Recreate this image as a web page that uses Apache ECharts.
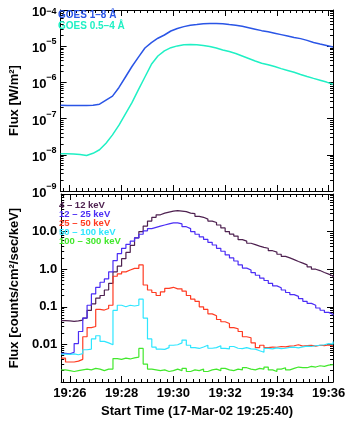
<!DOCTYPE html>
<html>
<head>
<meta charset="utf-8">
<title>GOES / RHESSI 17-Mar-02</title>
<script src="https://cdn.jsdelivr.net/npm/echarts@6/dist/echarts.min.js"></script>
<style>html,body{margin:0;padding:0;background:#fff;}</style>
</head>
<body>
<div id="main" style="width:354px;height:425px;"></div>
<script>
// time in seconds after 19:25:40
var goesTimes = [0, 15, 30, 45, 60, 75, 90, 105, 120, 135, 150, 165, 180, 195, 210, 225, 240, 255, 270, 285,
  300, 315, 330, 345, 360, 375, 390, 405, 420, 435, 450, 465, 480, 495, 510, 525, 540, 555, 570, 585, 600, 615, 630];
var goesLong = [2.34e-7, 2.29e-7, 2.29e-7, 2.29e-7, 2.29e-7, 2.34e-7, 2.5e-7, 3.24e-7, 4.17e-7, 7.24e-7,
  1.41e-6, 2.75e-6, 5.0e-6, 8.9e-6, 1.26e-5, 1.66e-5, 2.04e-5, 2.63e-5, 3.09e-5, 3.47e-5,
  3.8e-5, 3.98e-5, 4.17e-5, 4.27e-5, 4.27e-5, 4.17e-5, 3.98e-5, 3.8e-5, 3.55e-5, 3.24e-5,
  2.95e-5, 2.69e-5, 2.51e-5, 2.29e-5, 2.09e-5, 1.91e-5, 1.74e-5, 1.62e-5, 1.45e-5, 1.26e-5,
  1.15e-5, 1.05e-5, 9.5e-6];
var goesShort = [1.07e-8, 1.07e-8, 1.05e-8, 1.02e-8, 9.6e-9, 1.1e-8, 1.38e-8, 2.09e-8, 3.55e-8, 6.6e-8,
  1.35e-7, 2.75e-7, 6.3e-7, 1.41e-6, 3.16e-6, 5.37e-6, 7.4e-6, 9.1e-6, 1.02e-5, 1.1e-5,
  1.12e-5, 1.1e-5, 1.05e-5, 9.8e-6, 8.9e-6, 7.9e-6, 7.1e-6, 6.3e-6, 5.37e-6, 4.57e-6,
  3.89e-6, 3.39e-6, 3.09e-6, 2.75e-6, 2.4e-6, 2.14e-6, 1.91e-6, 1.66e-6, 1.45e-6, 1.29e-6,
  1.15e-6, 1.02e-6, 8.9e-7];

var binTimes = [0, 10, 20, 30, 40, 50, 60, 70, 80, 90, 100, 110, 120, 130, 140, 150, 160, 170, 180, 190,
  200, 210, 220, 230, 240, 250, 260, 270, 280, 290, 300, 310, 320, 330, 340, 350, 360, 370, 380, 390,
  400, 410, 420, 430, 440, 450, 460, 470, 480, 490, 500, 510, 520, 530, 540, 550, 560, 570, 580, 590,
  600, 610, 620, 630];
var band4to12 = [0.043, 0.042, 0.041, 0.042, 0.044, 0.05, 0.08, 0.12, 0.17, 0.2,
  0.28, 0.42, 0.85, 1.2, 1.9, 2.8, 4.3, 6.8, 10, 14,
  19, 24, 28, 31, 33, 35, 36, 35, 34, 31,
  30, 25.5, 24, 21.5, 19, 17.5, 15, 12.5, 10, 8.6,
  7.6, 6.1, 5.6, 4.9, 4.5, 4.1, 3.8, 3.6, 3.1, 2.85,
  2.5, 2.2, 2.0, 1.8, 1.6, 1.45, 1.3, 1.15, 1.0, 0.92,
  0.82, 0.74, 0.66, 0.6];
var band12to25 = [0.0058, 0.0056, 0.0062, 0.0105, 0.022, 0.05, 0.11, 0.22, 0.33, 0.45,
  0.55, 0.85, 1.7, 2.6, 3.6, 4.6, 5.6, 6.8, 8.5, 10.5,
  12, 13, 14, 15, 16, 17, 17, 16, 13.5, 12,
  10, 8.5, 7.2, 6.2, 5.2, 4.4, 3.6, 3.0, 2.4, 2.0,
  1.65, 1.3, 1.07, 0.95, 0.81, 0.69, 0.58, 0.5, 0.42, 0.36,
  0.32, 0.28, 0.24, 0.21, 0.19, 0.165, 0.14, 0.123, 0.11, 0.093,
  0.081, 0.071, 0.063, 0.06];
var band25to50 = [0.0043, 0.0034, 0.0034, 0.0036, 0.004, 0.016, 0.028, 0.03, 0.085, 0.082,
  0.09, 0.11, 0.65, 0.75, 0.85, 0.95, 1.05, 1.05, 1.3, 0.38,
  0.28, 0.24, 0.2, 0.25, 0.31, 0.33, 0.3, 0.3, 0.26, 0.2,
  0.16, 0.14, 0.1, 0.085, 0.065, 0.058, 0.046, 0.04, 0.036, 0.028,
  0.026, 0.022, 0.016, 0.015, 0.011, 0.0082, 0.0095, 0.0082, 0.0085, 0.0084,
  0.0088, 0.0086, 0.009, 0.0092, 0.0098, 0.009, 0.0093, 0.0095, 0.009, 0.0095,
  0.0093, 0.0097, 0.0091, 0.0093];
var band50to100 = [0.0055, 0.0054, 0.0056, 0.0053, 0.0057, 0.0072, 0.0075, 0.014, 0.017, 0.012,
  0.011, 0.0098, 0.08, 0.11, 0.1, 0.11, 0.105, 0.11, 0.16, 0.05,
  0.014, 0.0085, 0.0075, 0.0074, 0.0082, 0.0095, 0.0098, 0.011, 0.013, 0.0095,
  0.0082, 0.0078, 0.0085, 0.0095, 0.0079, 0.0082, 0.0092, 0.0078, 0.0076, 0.0088,
  0.0079, 0.0077, 0.0082, 0.0076, 0.0075, 0.0068, 0.0062, 0.0078, 0.0076, 0.0081,
  0.0077, 0.0079, 0.0083, 0.0085, 0.0081, 0.0086, 0.009, 0.0088, 0.0092, 0.0095,
  0.0098, 0.0105, 0.0102, 0.012];
var band100to300 = [0.0021, 0.002, 0.0019, 0.002, 0.0021, 0.0022, 0.0021, 0.0023, 0.0022, 0.002,
  0.0022, 0.0022, 0.0042, 0.004, 0.0043, 0.0041, 0.0044, 0.0046, 0.0078, 0.003,
  0.0022, 0.0021, 0.002, 0.0021, 0.0019, 0.002, 0.0022, 0.002, 0.0023, 0.0019,
  0.0021, 0.002, 0.0022, 0.0019, 0.0021, 0.0022, 0.002, 0.0023, 0.0021, 0.002,
  0.0022, 0.0021, 0.0024, 0.0022, 0.0021, 0.0023, 0.0022, 0.0025, 0.0021, 0.0019,
  0.0022, 0.0024, 0.0021, 0.0023, 0.0025, 0.0024, 0.0024, 0.0026, 0.0025, 0.0027,
  0.0026, 0.0028, 0.0029, 0.003];

var goesNames = ['GOES 1\u20138 \u00c5', 'GOES 0.5\u20134 \u00c5'];
var goesColors = ['#2a55e6', '#1ff0c4'];
var bandNames = ['4 \u2013 12 keV', '12 \u2013 25 keV', '25 \u2013 50 keV', '50 \u2013 100 keV', '100 \u2013 300 keV'];
var bandColors = ['#4e2150', '#4b2df5', '#ff3b22', '#2ee6ff', '#42e82c'];

var tickTimes = [20, 140, 260, 380, 500, 620];
var tickLabels = ['19:26', '19:28', '19:30', '19:32', '19:34', '19:36'];
var goesTicks = [1e-9, 1e-8, 1e-7, 1e-6, 1e-5, 1e-4];
var fluxTicks = [0.001, 0.01, 0.1, 1, 10, 100];
var fluxLabelValues = [0.01, 0.1, 1, 10];
var fluxLabels = ['0.01', '0.1', '1.0', '10.0'];

var FONT = '"Liberation Sans", Arial, Helvetica, sans-serif';
var X_MAX = 630;

var minorTimes = [];
for (var t = 5; t <= X_MAX; t += 15) minorTimes.push(t);
function minorLog(lo, hi) {
  var out = [];
  for (var e = lo; e < hi; e++) for (var k = 2; k <= 9; k++) out.push(k * Math.pow(10, e));
  return out;
}

var black = {color: '#000', width: 1};

function xAxes(gi, withLabels) {
  var base = {gridIndex: gi, type: 'value', min: 0, max: X_MAX, splitLine: {show: false}};
  var list = [];
  ['bottom', 'top'].forEach(function (pos) {
    var major = Object.assign({}, base, {
      position: pos,
      axisLine: {show: true, onZero: false, lineStyle: black},
      axisTick: {show: true, inside: true, length: 6, customValues: tickTimes, lineStyle: black},
      axisLabel: {show: false}
    });
    if (withLabels && pos === 'bottom') {
      major.axisLabel = {
        show: true, customValues: tickTimes, margin: 5,
        fontSize: 13, fontWeight: 'bold', fontFamily: FONT, color: '#000',
        formatter: function (v) {
          var i = tickTimes.indexOf(Math.round(v));
          return i >= 0 ? tickLabels[i] : '';
        }
      };
      major.name = 'Start Time (17-Mar-02 19:25:40)';
      major.nameLocation = 'middle';
      major.nameGap = 23;
      major.nameTextStyle = {fontSize: 13, fontWeight: 'bold', fontFamily: FONT, color: '#000'};
    }
    var minor = Object.assign({}, base, {
      position: pos,
      axisLine: {show: false, onZero: false},
      axisTick: {show: true, inside: true, length: 3, customValues: minorTimes, lineStyle: black},
      axisLabel: {show: false}
    });
    list.push(major, minor);
  });
  return list;
}

function yAxes(gi, lo, hi, majors, minors, label, name, nameGap) {
  var base = {gridIndex: gi, type: 'log', logBase: 10, min: Math.pow(10, lo), max: Math.pow(10, hi), splitLine: {show: false}};
  var list = [];
  ['left', 'right'].forEach(function (pos) {
    var major = Object.assign({}, base, {
      position: pos,
      axisLine: {show: true, onZero: false, lineStyle: black},
      axisTick: {show: true, inside: true, length: 6, customValues: majors, lineStyle: black},
      axisLabel: {show: false}
    });
    if (pos === 'left') {
      major.axisLabel = label;
      major.name = name;
      major.nameLocation = 'middle';
      major.nameGap = nameGap;
      major.nameTextStyle = {fontSize: 13, fontWeight: 'bold', fontFamily: FONT, color: '#000'};
    }
    var minor = Object.assign({}, base, {
      position: pos,
      axisLine: {show: false, onZero: false},
      axisTick: {show: true, inside: true, length: 3, customValues: minors, lineStyle: black},
      axisLabel: {show: false}
    });
    list.push(major, minor);
  });
  return list;
}

var goesLabel = {
  show: true, customValues: goesTicks, margin: 4,
  formatter: function (v) {
    var e = Math.round(Math.log10(v));
    var tag = e === -4 ? 'T' : '';
    return '{b' + tag + '|10}{s' + tag + '|\u2212' + (-e) + '}';
  },
  rich: {
    b: {fontSize: 13, fontWeight: 'bold', fontFamily: FONT, color: '#000', verticalAlign: 'bottom', lineHeight: 18},
    s: {fontSize: 9, fontWeight: 'bold', fontFamily: FONT, color: '#000', verticalAlign: 'top', lineHeight: 18},
    bT: {fontSize: 13, fontWeight: 'bold', fontFamily: FONT, color: '#000', verticalAlign: 'bottom', lineHeight: 18, padding: [6, 0, 0, 0]},
    sT: {fontSize: 9, fontWeight: 'bold', fontFamily: FONT, color: '#000', verticalAlign: 'top', lineHeight: 18, padding: [6, 0, 0, 0]}
  }
};
var fluxLabel = {
  show: true, customValues: fluxLabelValues, margin: 4,
  fontSize: 13, fontWeight: 'bold', fontFamily: FONT, color: '#000',
  formatter: function (v) {
    for (var i = 0; i < fluxLabelValues.length; i++) {
      if (Math.abs(Math.log10(v) - Math.log10(fluxLabelValues[i])) < 0.01) return fluxLabels[i];
    }
    return '';
  }
};

function pairs(xs, ys) { return xs.map(function (x, i) { return [x, ys[i]]; }); }

var series = [
  {name: goesNames[0], data: goesLong, color: goesColors[0]},
  {name: goesNames[1], data: goesShort, color: goesColors[1]}
].map(function (s) {
  return {name: s.name, type: 'line', xAxisIndex: 0, yAxisIndex: 0, showSymbol: false,
    data: pairs(goesTimes, s.data), lineStyle: {color: s.color, width: 1.5}, itemStyle: {color: s.color}};
});
[band4to12, band12to25, band25to50, band50to100, band100to300].forEach(function (vals, i) {
  series.push({name: bandNames[i], type: 'line', step: 'end', xAxisIndex: 4, yAxisIndex: 4, showSymbol: false,
    data: pairs(binTimes, vals), lineStyle: {color: bandColors[i], width: 1.2}, itemStyle: {color: bandColors[i]}});
});

var graphics = [];
goesNames.forEach(function (n, i) {
  graphics.push({type: 'text', left: 58, top: 10 + i * 11, z: 10,
    style: {text: n, fill: goesColors[i], font: 'bold 10px ' + FONT}});
});
bandNames.forEach(function (n, i) {
  graphics.push({type: 'text', left: 59, top: 200 + i * 9, z: 10,
    style: {text: n, fill: bandColors[i], font: 'bold 9.5px ' + FONT}});
});

var chart = echarts.init(document.getElementById('main'));
chart.setOption({
  animation: false,
  backgroundColor: '#fff',
  grid: [
    {left: 53, top: 4, width: 280, height: 187},
    {left: 53, top: 194, width: 280, height: 188}
  ],
  xAxis: xAxes(0, false).concat(xAxes(1, true)),
  yAxis: yAxes(0, -9, -4, goesTicks, minorLog(-9, -4), goesLabel, 'Flux [W/m\u00b2]', 37)
    .concat(yAxes(1, -3, 2, fluxTicks, minorLog(-3, 2), fluxLabel, 'Flux [counts/cm\u00b2/sec/keV]', 35)),
  series: series,
  graphic: graphics
});
</script>
</body>
</html>
